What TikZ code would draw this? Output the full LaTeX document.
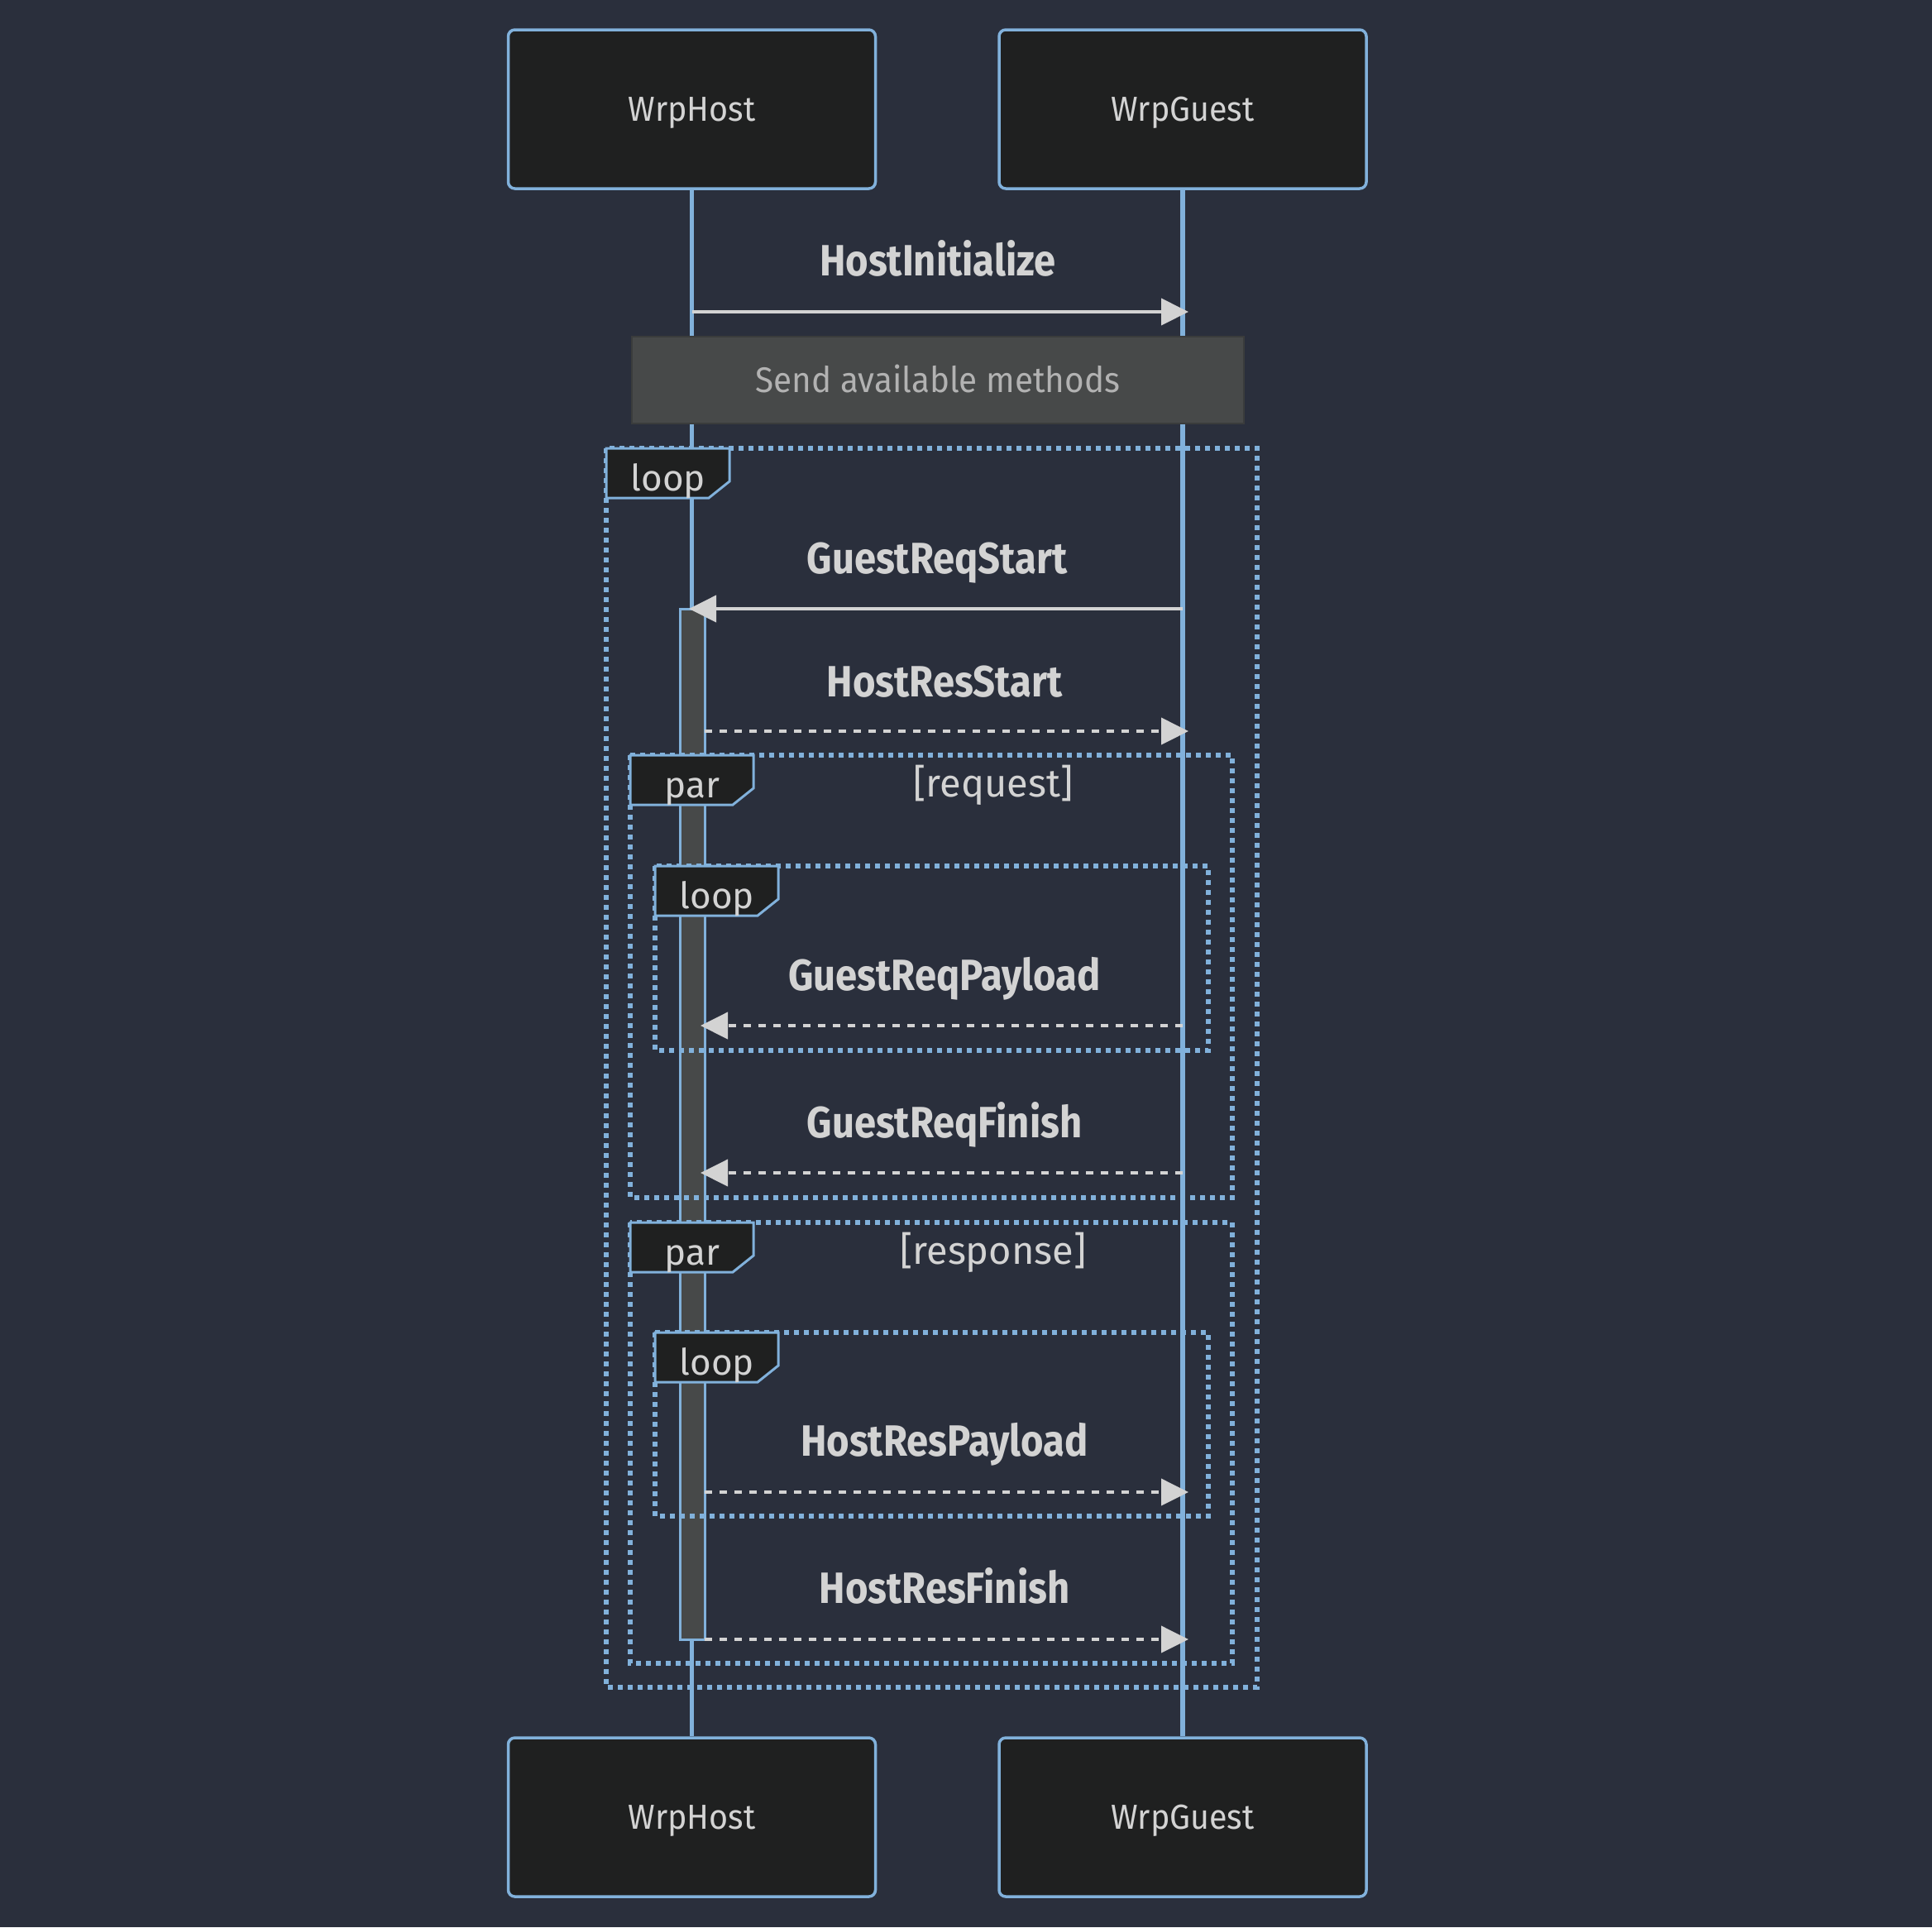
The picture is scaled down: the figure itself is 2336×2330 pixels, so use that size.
\documentclass[tikz,border=0pt]{standalone}
\usepackage{fontspec}
\setmainfont{Fira Sans}
\newfontfamily\narrowfont[FakeStretch=0.94]{Fira Sans}
\newfontfamily\msgfont[FakeStretch=0.89]{Fira Sans}
\usetikzlibrary{arrows.meta}

\definecolor{bg}{RGB}{42,47,60}
\definecolor{actorfill}{RGB}{31,32,32}
\definecolor{edge}{RGB}{129,177,219}
\definecolor{ink}{RGB}{211,211,211}
\definecolor{notefill}{RGB}{71,73,73}
\definecolor{noteedge}{RGB}{58,60,60}
\definecolor{noteink}{RGB}{178,178,178}

\tikzset{
  actor/.style={draw=edge, line width=3.5pt, fill=actorfill, rounded corners=8pt,
    minimum width=444pt, minimum height=192pt, inner sep=0pt, text=ink,
    font=\narrowfont\fontsize{42}{50}\selectfont, text height=29pt, text depth=0pt},
  lifeline/.style={draw=edge, line width=5.5pt},
  notebox/.style={draw=noteedge, line width=2pt, fill=notefill,
    minimum width=740pt, minimum height=105pt, inner sep=0pt, text=noteink,
    font=\narrowfont\fontsize{43}{50}\selectfont, text height=30pt, text depth=0pt},
  actbar/.style={draw=edge, line width=3pt, fill=notefill,
    minimum width=30pt, minimum height=1246pt, inner sep=0pt},
  fragment/.style={draw=edge, line width=5.5pt, dash pattern=on 6pt off 6pt},
  tagbox/.style={draw=edge, line width=3pt, fill=actorfill},
  tagtext/.style={text=ink, font=\fontsize{44}{52}\selectfont, anchor=base, inner sep=0pt},
  condtext/.style={tagtext, font=\fontsize{47}{54}\selectfont},
  msg/.style={draw=ink, line width=4pt, -{Triangle[length=33pt,width=32pt]}},
  reply/.style={msg, dash pattern=on 9pt off 9pt},
  msglabel/.style={text=ink, font=\msgfont\bfseries\fontsize{53}{60}\selectfont, anchor=base, inner sep=0pt},
}

\begin{document}
\begin{tikzpicture}[x=1pt, y=-1pt]
  \fill[bg] (0,0) rectangle (2336,2330);
  \useasboundingbox (0,0) rectangle (2336,2330);

  % participants
  \node[actor] (hostTop)  at (836.5,132) {WrpHost};
  \node[actor] (guestTop) at (1430,132) {WrpGuest};
  \node[actor] (hostBot)  at (836.5,2197) {WrpHost};
  \node[actor] (guestBot) at (1430,2197) {WrpGuest};

  % lifelines
  \draw[lifeline] (hostTop.south) -- (hostBot.north);
  \draw[lifeline] (guestTop.south) -- (guestBot.north);

  % note over both participants
  \node[notebox] (note) at (1134,459.5) {Send available methods};

  % activation of the host
  \node[actbar] (act) at (837,1359) {};

  % combined fragments
  \draw[fragment] (733,542) rectangle (1520,2040);
  \draw[fragment] (762,913) rectangle (1490,1448);
  \draw[fragment] (792,1047) rectangle (1461,1270);
  \draw[fragment] (762,1478) rectangle (1490,2011);
  \draw[fragment] (792,1611) rectangle (1461,1833);

  % fragment tags (cut lower-right corner)
  \draw[tagbox] (733,542) -- ++(149,0) -- ++(0,40) -- ++(-25,20) -- ++(-124,0) -- cycle;
  \node[tagtext] (loopOuter) at (808,593) {loop};
  \draw[tagbox] (762,913) -- ++(149,0) -- ++(0,40) -- ++(-25,20) -- ++(-124,0) -- cycle;
  \node[tagtext] (parReq) at (837,964) {par};
  \draw[tagbox] (792,1047) -- ++(149,0) -- ++(0,40) -- ++(-25,20) -- ++(-124,0) -- cycle;
  \node[tagtext] (loopReq) at (867,1098) {loop};
  \draw[tagbox] (762,1478) -- ++(149,0) -- ++(0,40) -- ++(-25,20) -- ++(-124,0) -- cycle;
  \node[tagtext] (parRes) at (837,1529) {par};
  \draw[tagbox] (792,1611) -- ++(149,0) -- ++(0,40) -- ++(-25,20) -- ++(-124,0) -- cycle;
  \node[tagtext] (loopRes) at (867,1662) {loop};

  \node[condtext] (condReq) at (1201,963) {[request]};
  \node[condtext] (condRes) at (1201,1528) {[response]};

  % message end points
  \coordinate (h1) at (837,377);   \coordinate (g1) at (1437,377);
  \coordinate (g2) at (1430,736);  \coordinate (h2) at (833,736);
  \coordinate (h3) at (852,884);   \coordinate (g3) at (1437,884);
  \coordinate (g4) at (1430,1240); \coordinate (h4) at (847,1240);
  \coordinate (g5) at (1430,1418); \coordinate (h5) at (847,1418);
  \coordinate (h6) at (852,1804);  \coordinate (g6) at (1437,1804);
  \coordinate (h7) at (852,1982);  \coordinate (g7) at (1437,1982);

  % messages
  \draw[msg] (h1) -- (g1);
  \node[msglabel] (lbl1) at (1134,333) {HostInitialize};
  \draw[msg] (g2) -- (h2);
  \node[msglabel] (lbl2) at (1133,693) {GuestReqStart};
  \draw[reply] (h3) -- (g3);
  \node[msglabel] (lbl3) at (1142,842) {HostResStart};
  \draw[reply] (g4) -- (h4);
  \node[msglabel] (lbl4) at (1142,1197) {GuestReqPayload};
  \draw[reply] (g5) -- (h5);
  \node[msglabel] (lbl5) at (1142,1375) {GuestReqFinish};
  \draw[reply] (h6) -- (g6);
  \node[msglabel] (lbl6) at (1142,1760) {HostResPayload};
  \draw[reply] (h7) -- (g7);
  \node[msglabel] (lbl7) at (1142,1938) {HostResFinish};
\end{tikzpicture}
\end{document}
